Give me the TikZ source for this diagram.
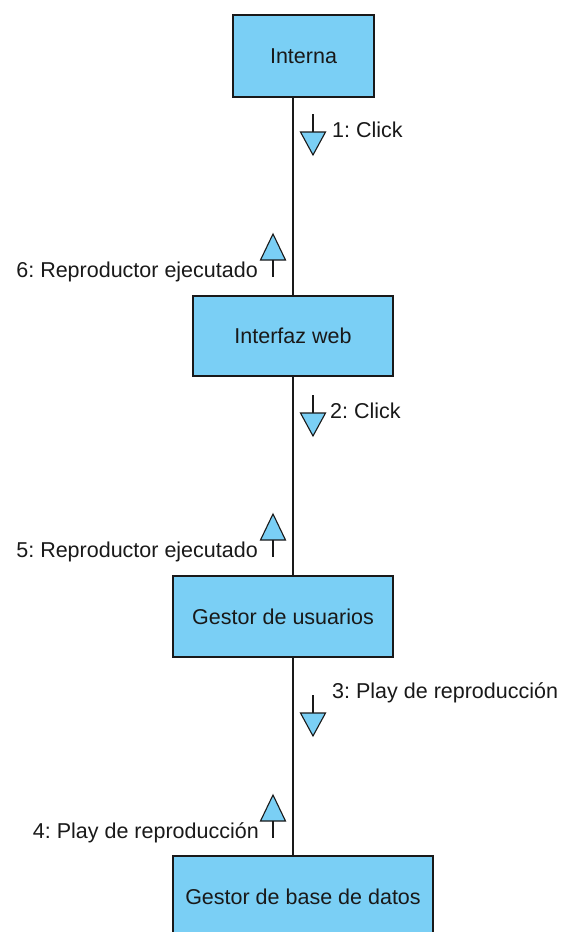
\documentclass[tikz,border=0pt]{standalone}
\usepackage{fontspec}
\setmainfont{Liberation Sans}
\definecolor{boxblue}{RGB}{122,207,245}
\definecolor{ink}{RGB}{25,25,25}
\begin{document}
\frenchspacing
\begin{tikzpicture}[x=1pt,y=-1pt,
  box/.style={draw=ink, line width=1.3pt, fill=boxblue, inner sep=0pt,
              font=\fontsize{21.5}{26}\selectfont, text=ink},
  lbl/.style={inner sep=0pt, font=\fontsize{21.5}{26}\selectfont, text=ink},
  link/.style={draw=ink, line width=1.1pt},
  tri/.style={draw=ink, line width=1.1pt, fill=boxblue, line join=miter},
  stem/.style={draw=ink, line width=1.1pt}]
\useasboundingbox (0,0) rectangle (564,932);
\clip (0,0) rectangle (564,932);
\fill[white] (0,0) rectangle (564,932);
% boxes
\node[box, minimum width=141pt, minimum height=82pt] (interna) at (303.5,56) {Interna};
\node[box, minimum width=200pt, minimum height=80pt] (web) at (293,336) {Interfaz web};
\node[box, minimum width=220pt, minimum height=81pt] (usu) at (283,616.5) {Gestor de usuarios};
\node[box, minimum width=260pt, minimum height=82pt] (bd) at (303,897) {Gestor de base de datos};
\coordinate (lx) at (293,0);
% connectors
\draw[link] (interna.south -| lx) -- (web.north -| lx);
\draw[link] (web.south -| lx) -- (usu.north -| lx);
\draw[link] (usu.south -| lx) -- (bd.north -| lx);
% down message arrows
\foreach \s in {114,395,695}{
  \draw[stem] (313,\s) -- (313,\s+18);
  \draw[tri] (300.5,\s+18) -- (325.5,\s+18) -- (313,\s+41) -- cycle;
}
% up message arrows
\foreach \t in {234,514,795}{
  \draw[tri] (273,\t) -- (285.5,\t+26) -- (260.5,\t+26) -- cycle;
  \draw[stem] (273,\t+26) -- (273,\t+43);
}
% labels
\node[lbl, anchor=west] (m1) at (332,130) {1: Click};
\node[lbl, anchor=west] (m2) at (330,411) {2: Click};
\node[lbl, anchor=west] (m3) at (332,693) {3: Play de reproducción};
\node[lbl, anchor=east] (m4) at (259,833) {4: Play de reproducción};
\node[lbl, anchor=east] (m5) at (258,552) {5: Reproductor ejecutado};
\node[lbl, anchor=east] (m6) at (258,272) {6: Reproductor ejecutado};
\end{tikzpicture}
\end{document}
